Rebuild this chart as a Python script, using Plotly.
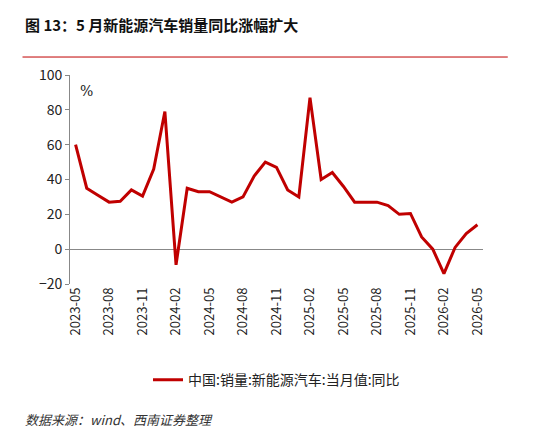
import plotly.graph_objects as go

months = ["2023-05","2023-06","2023-07","2023-08","2023-09","2023-10","2023-11","2023-12",
          "2024-01","2024-02","2024-03","2024-04","2024-05","2024-06","2024-07","2024-08",
          "2024-09","2024-10","2024-11","2024-12","2025-01","2025-02","2025-03","2025-04",
          "2025-05","2025-06","2025-07","2025-08","2025-09","2025-10","2025-11","2025-12",
          "2026-01","2026-02","2026-03","2026-04","2026-05"]
yoy = [60,35,31,27,27.5,34,30.5,46,79,-9,35,33,33,30,27,30,42,50,47,34,30,87,40,44,36,
       27,27,27,25,20,20.5,7,0,-14,1,9,14]
tick_labels = months[::3]
series_name = "中国:销量:新能源汽车:当月值:同比"

font = "Noto Sans CJK SC"
fig = go.Figure(go.Scatter(x=months, y=yoy, mode="lines", name=series_name,
                           line=dict(color="#C00000", width=3)))
fig.update_layout(
    width=539, height=428, plot_bgcolor="white", paper_bgcolor="white",
    margin=dict(l=62, r=64, t=67, b=152),
    font=dict(family=font, size=13, color="#222"),
    showlegend=True,
    legend=dict(orientation="h", x=0.5, xanchor="center", y=-0.46, yanchor="middle",
                font=dict(size=14)),
    xaxis=dict(type="category", tickvals=tick_labels, ticktext=tick_labels, tickangle=-90,
               showgrid=False, showline=False, ticks="", range=[-0.5, 36.5],
               tickfont=dict(size=13)),
    yaxis=dict(range=[-20, 100], dtick=20, showgrid=False, showline=True,
               linecolor="#888", ticks="outside", ticklen=4, tickcolor="#888",
               zeroline=True, zerolinecolor="#888", zerolinewidth=1,
               tickfont=dict(size=14)),
    annotations=[
        dict(text="<b>图 13：5 月新能源汽车销量同比涨幅扩大</b>", xref="paper", yref="paper",
             x=-0.115, y=1.24, yanchor="middle", xanchor="left", showarrow=False,
             font=dict(size=15, color="#111")),
        dict(text="%", xref="paper", yref="paper", x=0.02, y=0.97, showarrow=False,
             xanchor="left", yanchor="top", font=dict(size=14, family="DejaVu Serif")),
        dict(text="<i>数据来源：wind、西南证券整理</i>", xref="paper", yref="paper",
             x=-0.115, y=-0.65, xanchor="left", yanchor="middle", showarrow=False,
             font=dict(size=13, color="#333")),
    ],
    shapes=[dict(type="line", xref="paper", yref="paper", x0=-0.115, x1=1.06,
                 y0=1.086, y1=1.086, line=dict(color="#C00000", width=1))],
)
fig.write_html("out.html")
